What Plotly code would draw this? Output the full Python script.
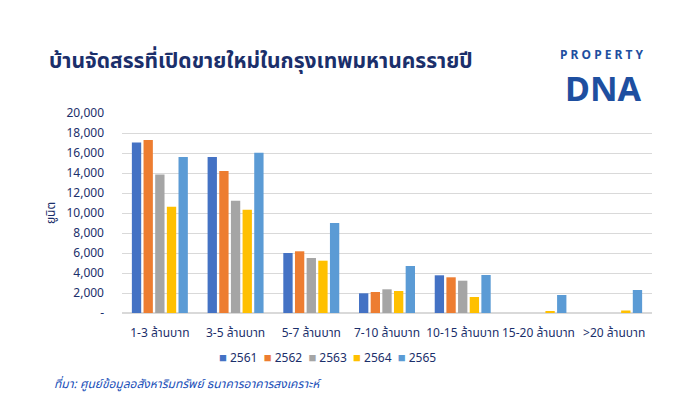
import plotly.graph_objects as go

categories = ["1-3 ล้านบาท", "3-5 ล้านบาท", "5-7 ล้านบาท", "7-10 ล้านบาท",
              "10-15 ล้านบาท", "15-20 ล้านบาท", ">20 ล้านบาท"]
years = ["2561", "2562", "2563", "2564", "2565"]
v2561 = [17050, 15600, 6000, 1970, 3770, 0, 0]
v2562 = [17300, 14200, 6170, 2100, 3570, 0, 0]
v2563 = [13850, 11230, 5500, 2370, 3230, 0, 0]
v2564 = [10630, 10330, 5230, 2200, 1600, 130, 250]
v2565 = [15600, 16030, 9000, 4700, 3800, 1800, 2300]
series = [v2561, v2562, v2563, v2564, v2565]
colors = ["#4472C4", "#ED7D31", "#A5A5A5", "#FFC000", "#5B9BD5"]

tick_vals = [0, 2000, 4000, 6000, 8000, 10000, 12000, 14000, 16000, 18000, 20000]
tick_text = ["-", "2,000", "4,000", "6,000", "8,000", "10,000", "12,000",
             "14,000", "16,000", "18,000", "20,000"]

title_text = "บ้านจัดสรรที่เปิดขายใหม่ในกรุงเทพมหานครรายปี"
source_text = "ที่มา: ศูนย์ข้อมูลอสังหาริมทรัพย์ ธนาคารอาคารสงเคราะห์"
navy = "#1B2F6B"
font_fam = "Noto Sans Thai, Noto Sans, sans-serif"

fig = go.Figure()
for y, vals, c in zip(years, series, colors):
    fig.add_trace(go.Bar(name=y, x=categories, y=vals, marker_color=c,
                         marker_line_width=0))

fig.update_layout(
    width=696, height=417,
    paper_bgcolor="white", plot_bgcolor="rgba(0,0,0,0)",
    margin=dict(l=114, r=52, t=105, b=112, autoexpand=False),
    barmode="group", bargap=0.23, bargroupgap=0.2,
    font=dict(family=font_fam, color=navy, size=12),
    showlegend=False,
)
fig.update_yaxes(range=[0, 20000], tickvals=tick_vals, ticktext=tick_text,
                 showgrid=True, gridcolor="#D9D9D9", gridwidth=1,
                 zeroline=True, zerolinecolor="#D9D9D9",
                 ticks="", ticklabelstandoff=17, automargin=False,
                 tickfont=dict(size=12, color=navy),
                 title=dict(text="ยูนิต", font=dict(size=12, color=navy), standoff=8))
fig.update_xaxes(tickfont=dict(size=12, color=navy), tickangle=0, showline=False,
                 ticks="", automargin=False, ticklabelstandoff=11)

# compact legend, built from the series names and colours
legend_text = "&nbsp;&nbsp;".join(
    f'<span style="color:{c}; font-size:13px">■</span> {y}' for y, c in zip(years, colors))
fig.add_annotation(text=legend_text, xref="paper", yref="paper",
                   x=0.387, y=-0.225, xanchor="center", yanchor="middle",
                   showarrow=False, font=dict(size=12, color=navy, family=font_fam))

fig.add_annotation(text="<b>" + title_text + "</b>", xref="paper", yref="paper",
                   x=-0.1415, y=1.26, xanchor="left", yanchor="middle",
                   showarrow=False, font=dict(size=21, color=navy, family=font_fam))
fig.add_annotation(text="<i>" + source_text + "</i>", xref="paper", yref="paper",
                   x=-0.132, y=-0.355, xanchor="left", yanchor="middle",
                   showarrow=False, font=dict(size=12, color="#1A4FB8", family=font_fam))
fig.add_annotation(text="<b>P R O P E R T Y</b>", xref="paper", yref="paper",
                   x=0.905, y=1.29, xanchor="center", yanchor="middle",
                   showarrow=False, font=dict(size=12, color="#1E4FA0", family="Noto Sans, sans-serif"))
fig.add_annotation(text="<b>DNA</b>", xref="paper", yref="paper",
                   x=0.908, y=1.125, xanchor="center", yanchor="middle",
                   showarrow=False, font=dict(size=34, color="#1E4FA0", family="Noto Sans, sans-serif"))

fig.write_html("out.html")
